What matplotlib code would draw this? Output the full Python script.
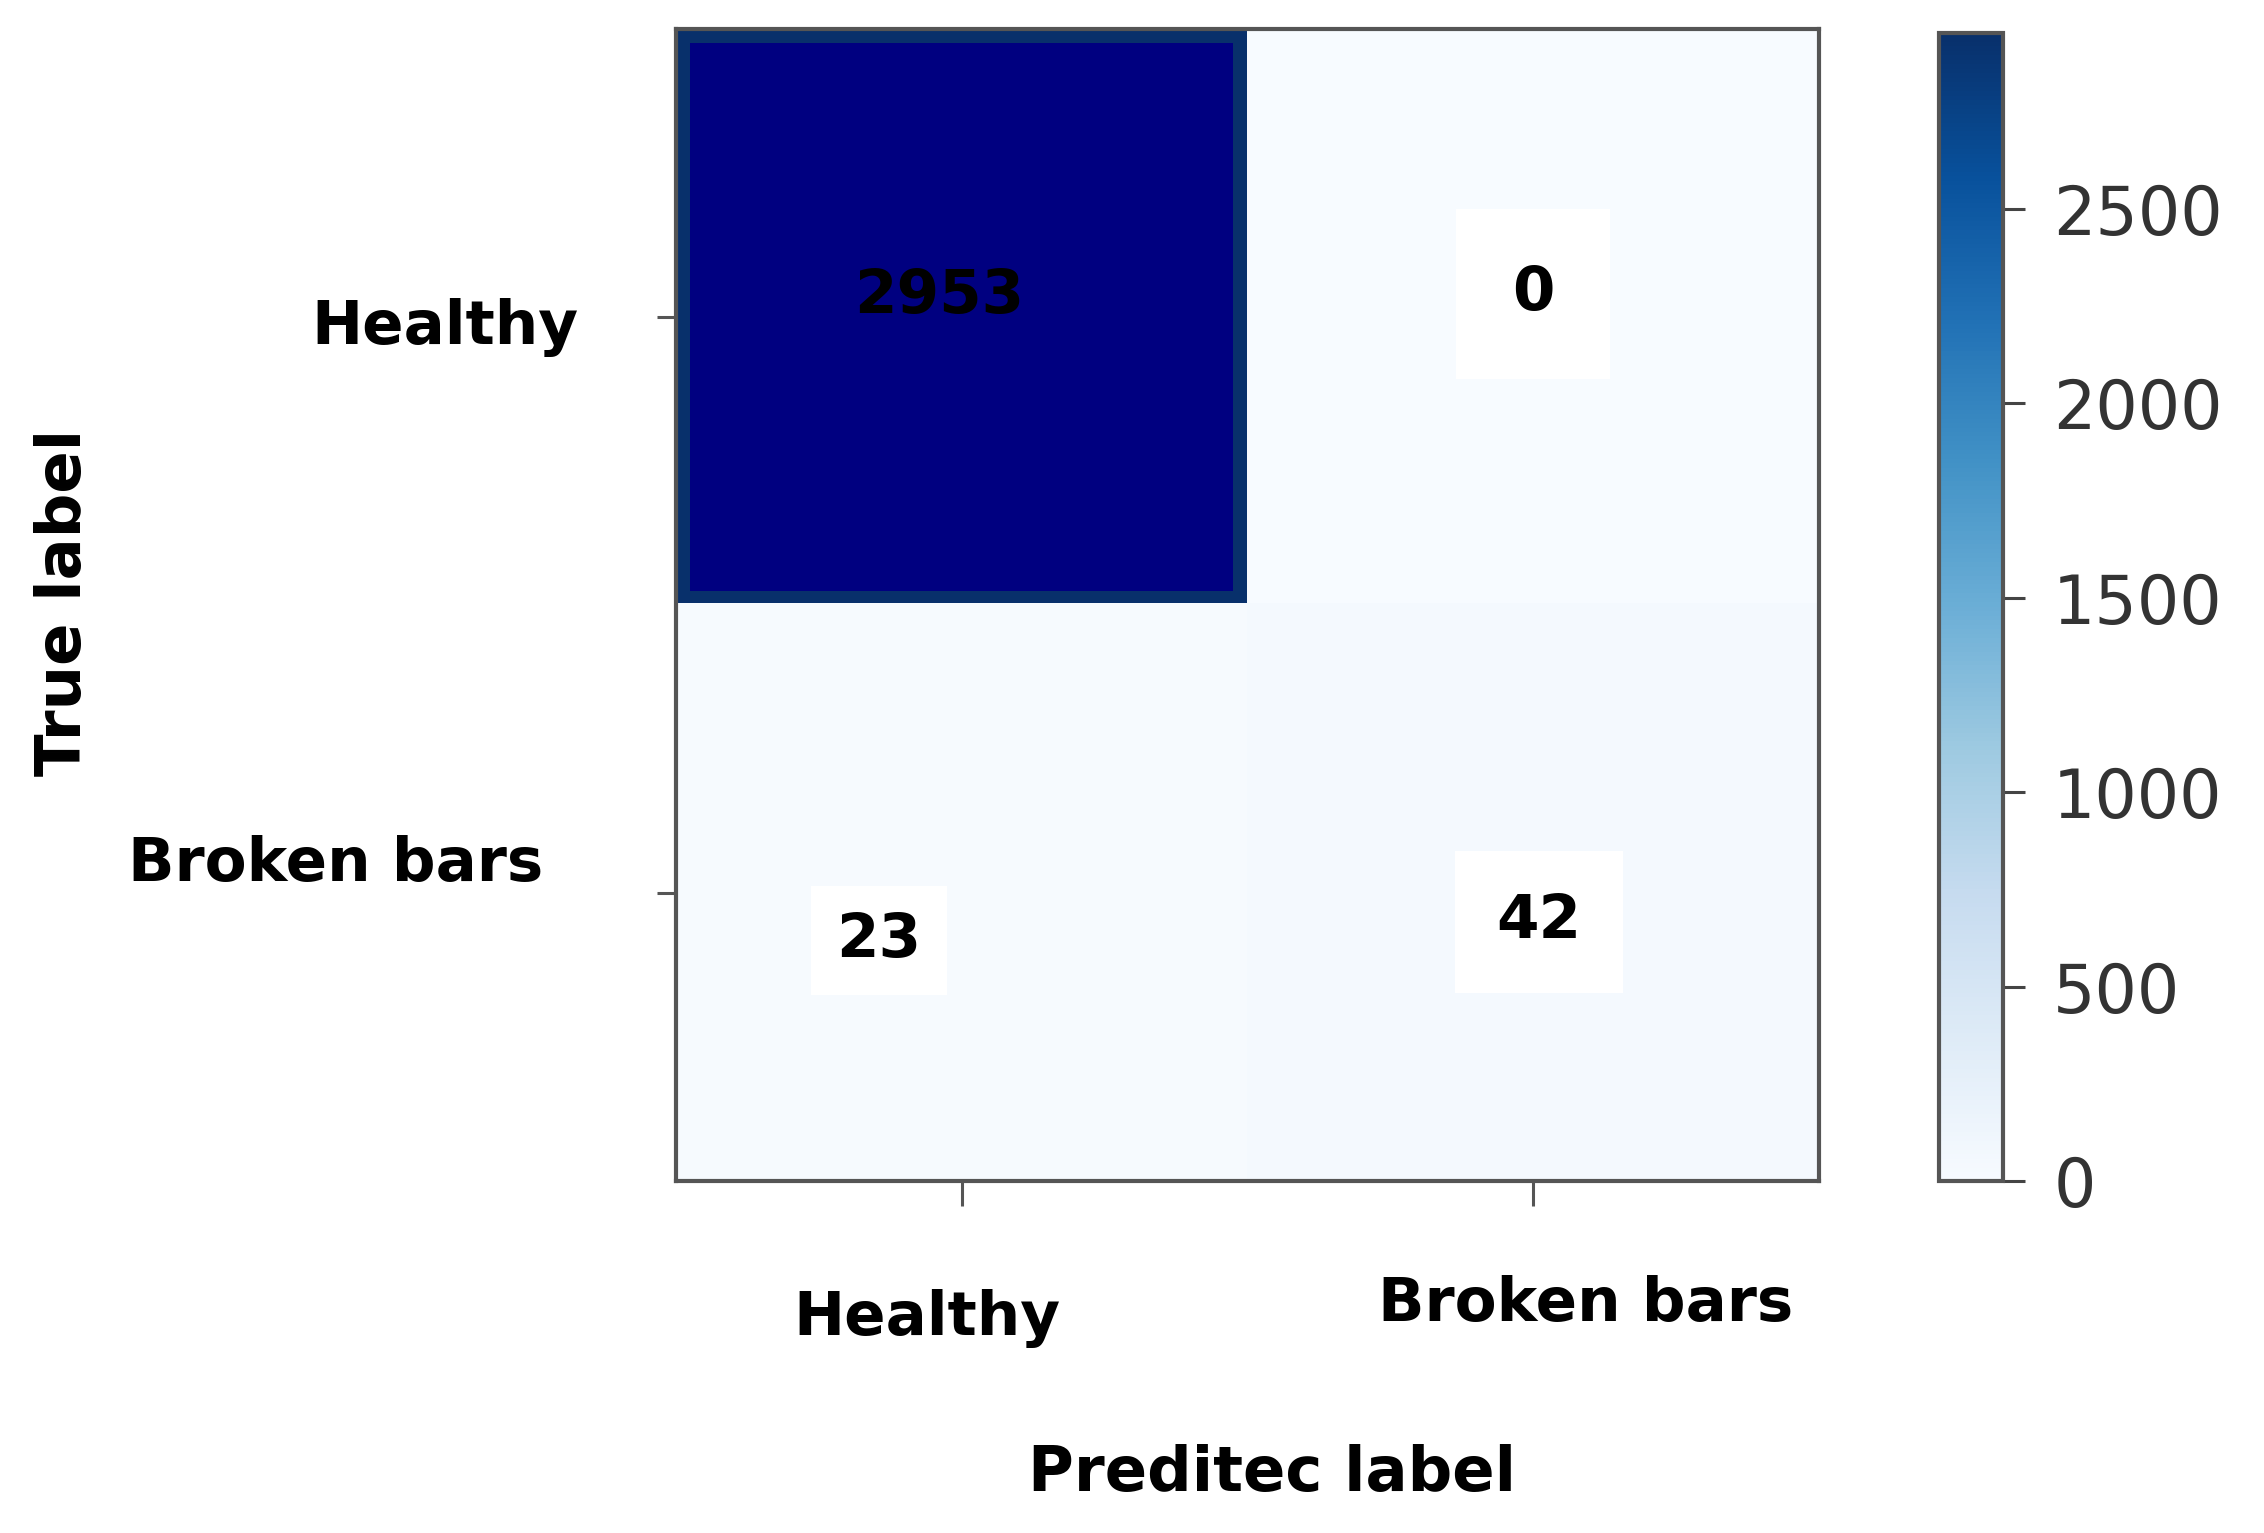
# confusion matrix: Healthy vs Broken bars
import numpy as np
import matplotlib.pyplot as plt
from matplotlib.patches import Rectangle
from matplotlib.transforms import ScaledTranslation

# ------------------------------
# Data
# ------------------------------
class_names = ["Healthy", "Broken bars"]
cm = np.array([[2953, 0],
               [23, 42]])
cbar_ticks = [0, 500, 1000, 1500, 2000, 2500]

# small nudges of the cell numbers (data units), as in the original picture
label_nudge = [[(-0.04, -0.035), (0.0, -0.04)],
               [(-0.145, 0.083), (0.01, 0.05)]]
# white patch behind the light-cell numbers (pad in points)
box_pad = [[0, 40], [18, 30]]

# ------------------------------
# Plot
# ------------------------------
fig = plt.figure(figsize=(22.64, 15.33), dpi=100)
ax = fig.add_axes([0.2986, 0.2296, 0.5048, 0.7515])
cax = fig.add_axes([0.8565, 0.2296, 0.0283, 0.7490])

im = ax.imshow(cm, cmap="Blues", vmin=0, vmax=cm.max(), aspect="auto",
               interpolation="nearest")

# darkest cell drawn in navy with a blue frame
i_max, j_max = np.unravel_index(np.argmax(cm), cm.shape)
inset = 0.025
ax.add_patch(Rectangle((j_max - 0.5 + inset, i_max - 0.5 + inset),
                       1 - 2 * inset, 1 - 2 * inset,
                       facecolor="#000080", edgecolor="none", zorder=2))

for i in range(cm.shape[0]):
    for j in range(cm.shape[1]):
        dx, dy = label_nudge[i][j]
        box = None
        if box_pad[i][j] > 0:
            box = dict(facecolor="white", edgecolor="none", pad=box_pad[i][j])
        ax.text(j + dx, i + dy, str(cm[i, j]), ha="center", va="center",
                fontsize=44, fontweight="bold", color="black", bbox=box,
                zorder=3)

ax.set_xticks(range(len(class_names)))
ax.set_yticks(range(len(class_names)))
ax.set_xticklabels(class_names, fontsize=44, fontweight="bold")
ax.set_yticklabels(class_names, fontsize=44, fontweight="bold")
ax.tick_params(axis="x", length=18, width=2.2, color="#555555", pad=60)
ax.tick_params(axis="y", length=14, width=2.2, color="#555555", pad=56)

# shift individual tick labels a bit
x_shift = [(-35, 0), (52, 14)]
y_shift = [(0, -4), (-36, 35)]
for lab, (sx, sy) in zip(ax.get_xticklabels(), x_shift):
    lab.set_transform(lab.get_transform() +
                      ScaledTranslation(sx / 100, sy / 100, fig.dpi_scale_trans))
for lab, (sx, sy) in zip(ax.get_yticklabels(), y_shift):
    lab.set_transform(lab.get_transform() +
                      ScaledTranslation(sx / 100, sy / 100, fig.dpi_scale_trans))

ax.set_xlabel("Preditec label", fontsize=45, fontweight="bold")
ax.xaxis.set_label_coords(0.5215, -0.228)
ax.set_ylabel("True label", fontsize=45, fontweight="bold")
ax.yaxis.set_label_coords(-0.509, 0.5025)

for sp in ax.spines.values():
    sp.set_color("#555555")
    sp.set_linewidth(3)

cb = fig.colorbar(im, cax=cax, ticks=cbar_ticks)
cb.outline.set_edgecolor("#555555")
cb.outline.set_linewidth(3)
cax.tick_params(length=16, width=2.2, color="#444444", pad=20,
                labelsize=48, labelcolor="#333333")

plt.savefig("out.png", dpi=100)
